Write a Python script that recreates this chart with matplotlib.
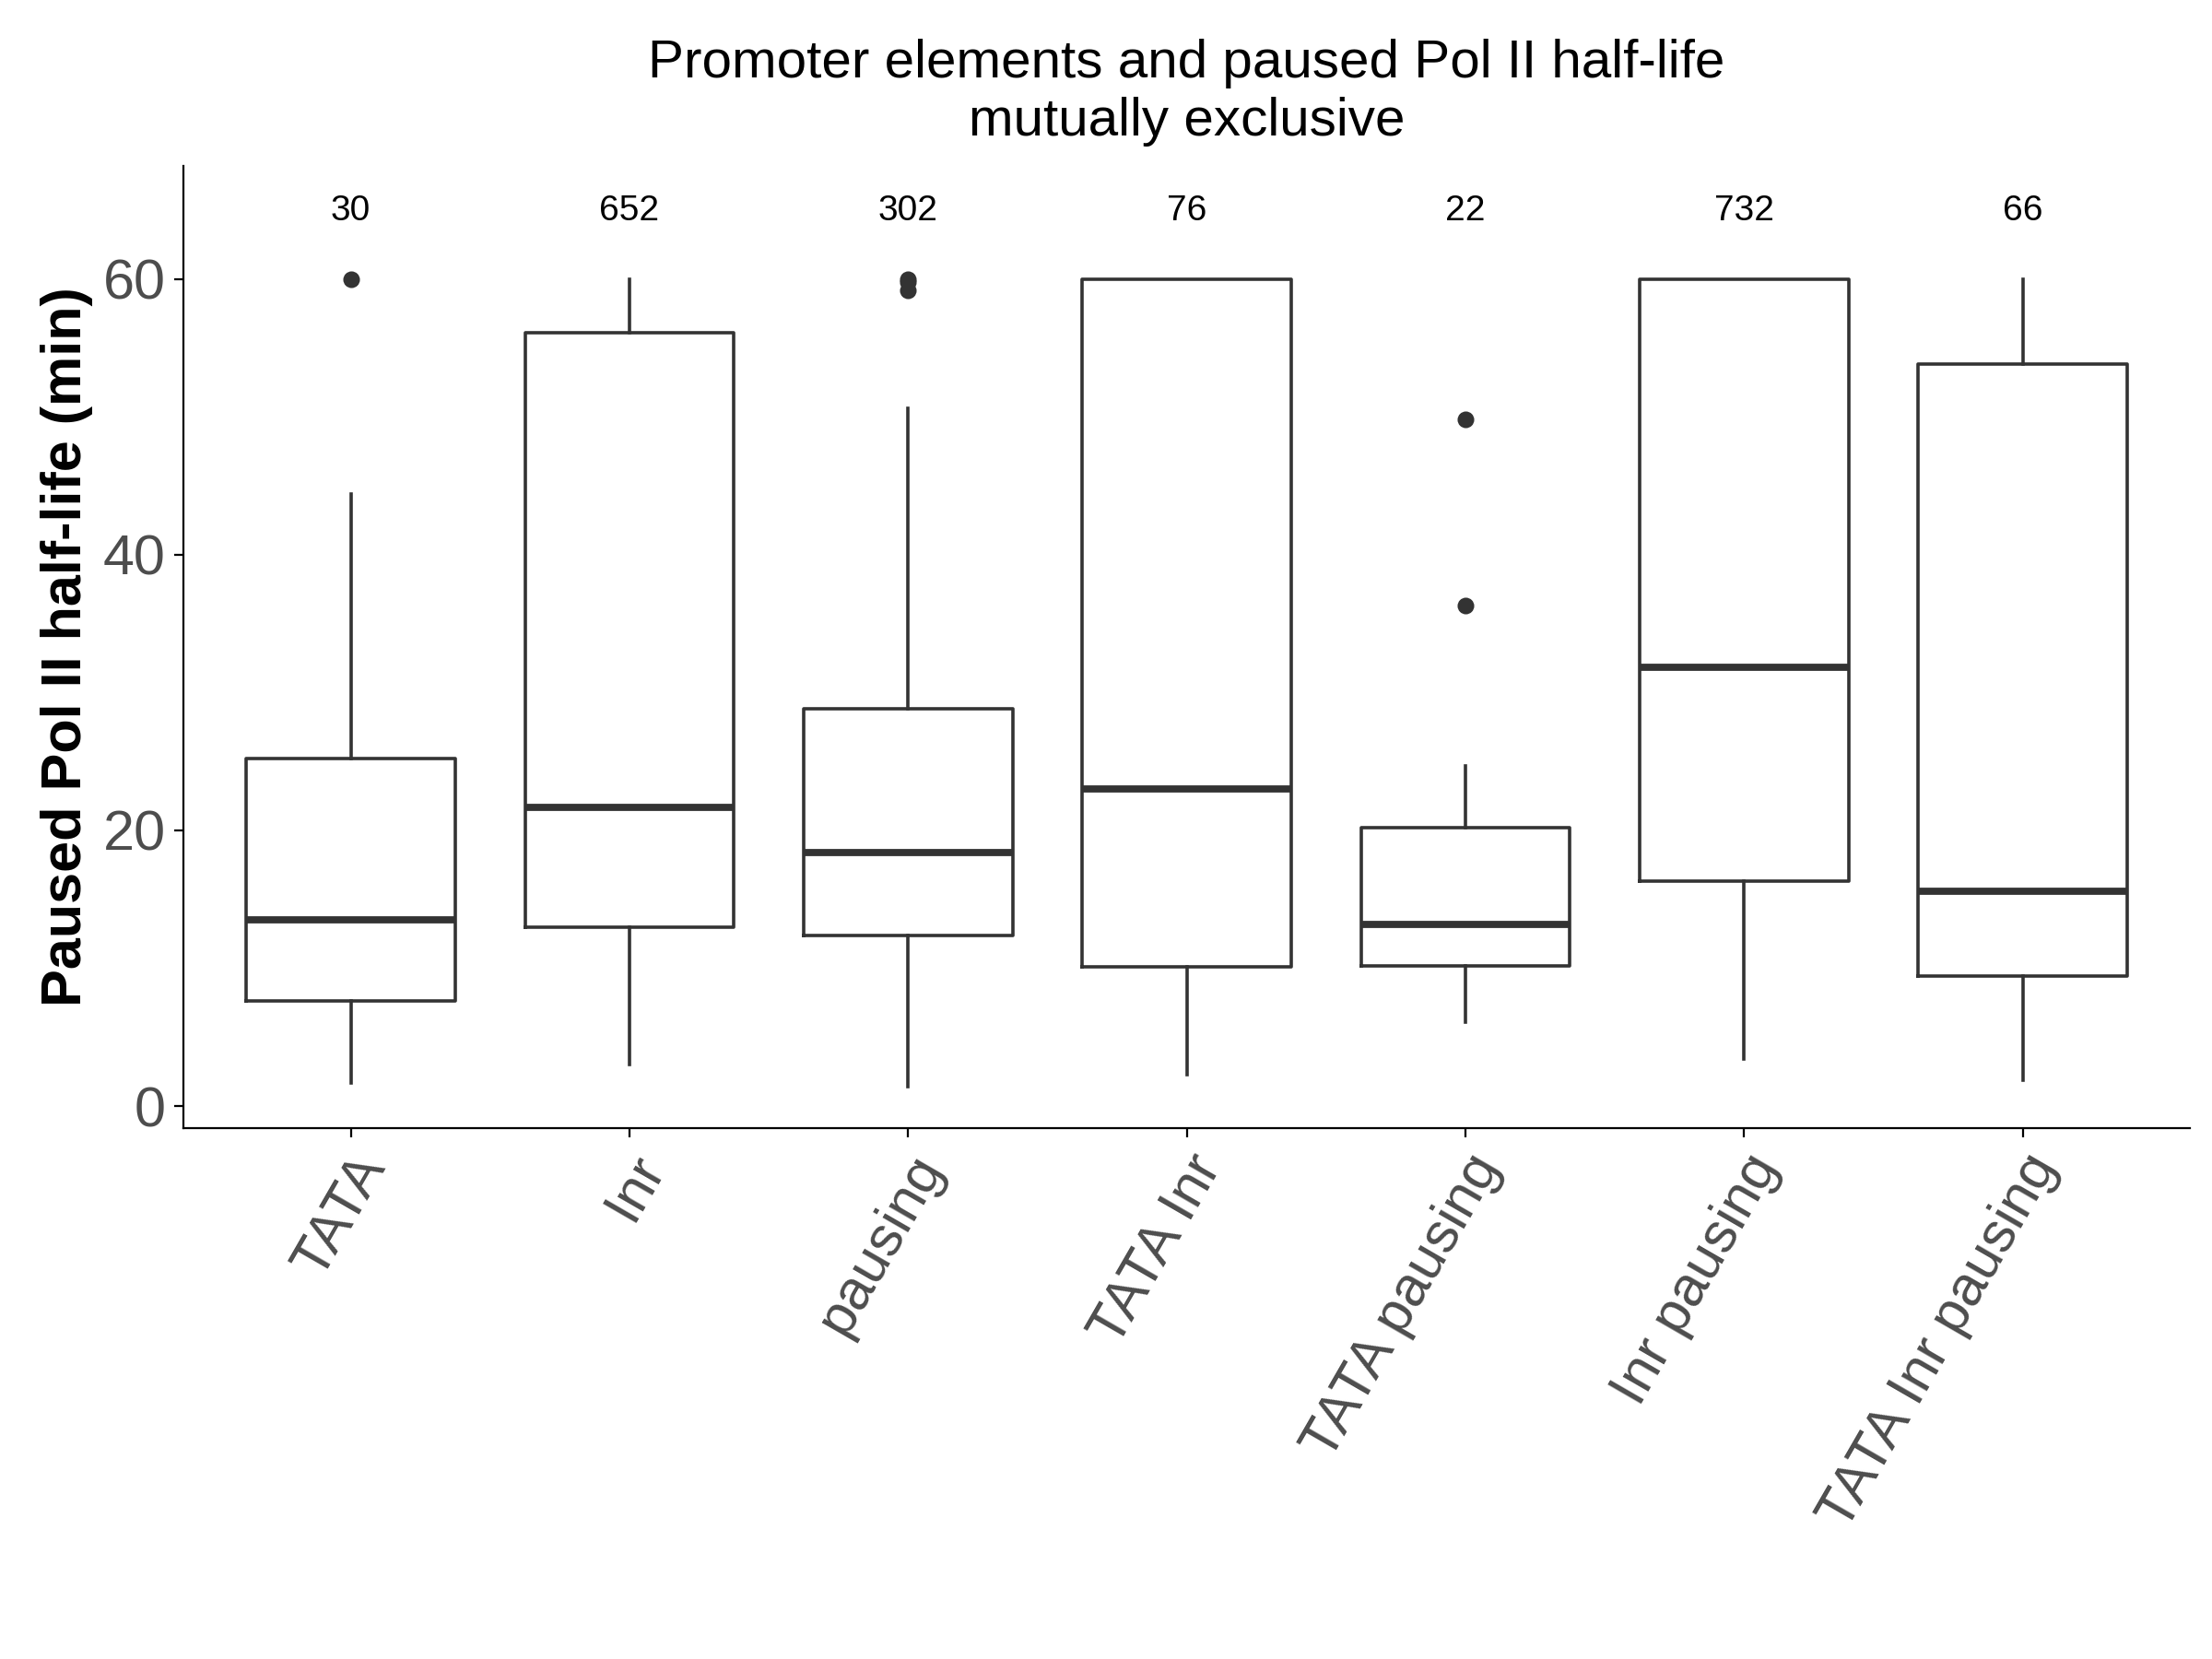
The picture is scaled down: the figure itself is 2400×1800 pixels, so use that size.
import matplotlib
matplotlib.use("Agg")
import matplotlib.pyplot as plt

plt.rcParams['font.family'] = ['Liberation Sans', 'DejaVu Sans']

groups = ["TATA", "Inr", "pausing", "TATA Inr", "TATA pausing", "Inr pausing", "TATA Inr pausing"]
counts = [30, 652, 302, 76, 22, 732, 66]
whislo = [1.7, 3.0, 1.4, 2.3, 6.1, 3.4, 1.9]
q1 = [7.6, 13.0, 12.4, 10.1, 10.2, 16.3, 9.4]
med = [13.5, 21.7, 18.4, 23.0, 13.2, 31.8, 15.6]
q3 = [25.2, 56.1, 28.8, 60.0, 20.2, 60.0, 53.8]
whishi = [44.4, 60.0, 50.6, 60.0, 24.7, 60.0, 60.0]
fliers = [[60.0], [], [60.0, 59.8, 59.2], [], [49.8, 36.3], [], []]

stats = [dict(whislo=a, q1=b, med=c, q3=d, whishi=e, fliers=f, label=g)
         for a, b, c, d, e, f, g in zip(whislo, q1, med, q3, whishi, fliers, groups)]

fig = plt.figure(figsize=(12, 9), dpi=200)
ax = fig.add_axes([0.083, 0.32, 0.907, 0.58])
col = "#333333"
ax.bxp(stats, positions=range(1, 8), widths=0.75, showcaps=False,
       boxprops=dict(color=col, linewidth=1.3),
       whiskerprops=dict(color=col, linewidth=1.3),
       medianprops=dict(color=col, linewidth=2.8),
       flierprops=dict(marker='o', markerfacecolor=col, markeredgecolor=col, markersize=5.5))

for i, n in enumerate(counts):
    ax.text(i + 1, 63.7, str(n), ha='center', va='bottom', fontsize=14)

ax.set_ylim(-1.6, 68.2)
ax.set_xlim(0.4, 7.6)
ax.set_yticks([0, 20, 40, 60])
ax.set_xticks(range(1, 8))
ax.set_xticklabels(groups, rotation=60, ha='right', rotation_mode='anchor')
ax.tick_params(labelsize=22, labelcolor="#4d4d4d")
ax.spines['top'].set_visible(False)
ax.spines['right'].set_visible(False)
ax.set_ylabel("Paused Pol II half-life (min)", fontsize=22, fontweight='bold')
ax.set_title("Promoter elements and paused Pol II half-life\nmutually exclusive", fontsize=21, pad=12)

fig.savefig("out.png", dpi=200)
